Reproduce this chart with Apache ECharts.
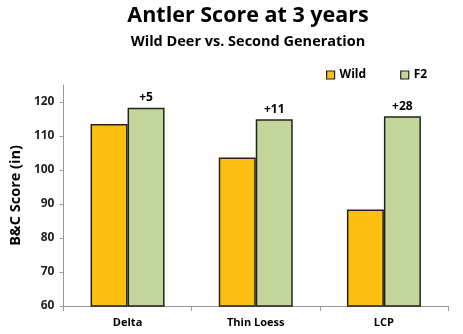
<!DOCTYPE html>
<html><head><meta charset="utf-8">
<script src="https://cdn.jsdelivr.net/npm/echarts@6/dist/echarts.min.js"></script>
<style>html,body{margin:0;padding:0;background:#fff}#c{width:463px;height:334px}</style>
</head><body><div id="c"></div>
<script>
const categories = ['Delta', 'Thin Loess', 'LCP'];
const wildValues = [113.5, 103.7, 88.4];
const f2Values = [118.3, 114.9, 115.8];
const diffLabels = ['+5', '+11', '+28'];
const yTicks = [60, 70, 80, 90, 100, 110, 120];

const FONT = '"Open Sans", "Liberation Sans", sans-serif';
const chart = echarts.init(document.getElementById('c'), null, {renderer: 'canvas'});
chart.setOption({
  animation: false,
  backgroundColor: '#fff',
  title: [
    {text: 'Antler Score at 3 years', left: 243, top: 0, textAlign: 'center',
     textStyle: {fontFamily: FONT, fontWeight: 'bold', fontSize: 21.5, color: '#000'}},
    {text: 'Wild Deer vs. Second Generation', left: 243, top: 29, textAlign: 'center',
     textStyle: {fontFamily: FONT, fontWeight: 'bold', fontSize: 14.5, color: '#000'}}
  ],
  legend: {
    left: 321, top: 64, itemWidth: 8, itemHeight: 8, itemGap: 34,
    icon: 'rect',
    itemStyle: {borderColor: '#222', borderWidth: 1.2},
    textStyle: {fontFamily: FONT, fontSize: 12, fontWeight: 'bold', color: '#000'},
    data: ['Wild', 'F2']
  },
  grid: {left: 60, right: 15, top: 85, bottom: 28, containLabel: false},
  xAxis: {
    type: 'category', data: categories,
    axisLine: {lineStyle: {color: '#999'}},
    axisTick: {show: true, length: 5, lineStyle: {color: '#999'}},
    axisLabel: {fontFamily: FONT, fontWeight: 'bold', fontSize: 11, color: '#000', margin: 11}
  },
  yAxis: {
    type: 'value', min: yTicks[0], max: 125, interval: 10,
    name: 'B&C Score (in)', nameLocation: 'middle', nameGap: 40, nameRotate: 90,
    nameTextStyle: {fontFamily: FONT, fontWeight: 'bold', fontSize: 14.5, color: '#000'},
    axisLine: {show: true, lineStyle: {color: '#999'}},
    axisTick: {show: true, length: 4, lineStyle: {color: '#999'}},
    splitLine: {show: false},
    axisLabel: {fontFamily: FONT, fontWeight: 'bold', fontSize: 12, color: '#222', margin: 9,
      showMaxLabel: false,
      formatter: v => yTicks.includes(v) ? String(v) : ''}
  },
  series: [
    {name: 'Wild', type: 'bar', data: wildValues, barWidth: 37, barGap: '0%',
     itemStyle: {color: '#FDC010', borderColor: '#222', borderWidth: 1.5}},
    {name: 'F2', type: 'bar', data: f2Values, barWidth: 37,
     itemStyle: {color: '#C4D79B', borderColor: '#222', borderWidth: 1.5},
     label: {show: true, position: 'top', distance: 4,
       fontFamily: FONT, fontWeight: 'bold', fontSize: 12, color: '#000',
       formatter: p => diffLabels[p.dataIndex]}}
  ]
});
</script></body></html>
